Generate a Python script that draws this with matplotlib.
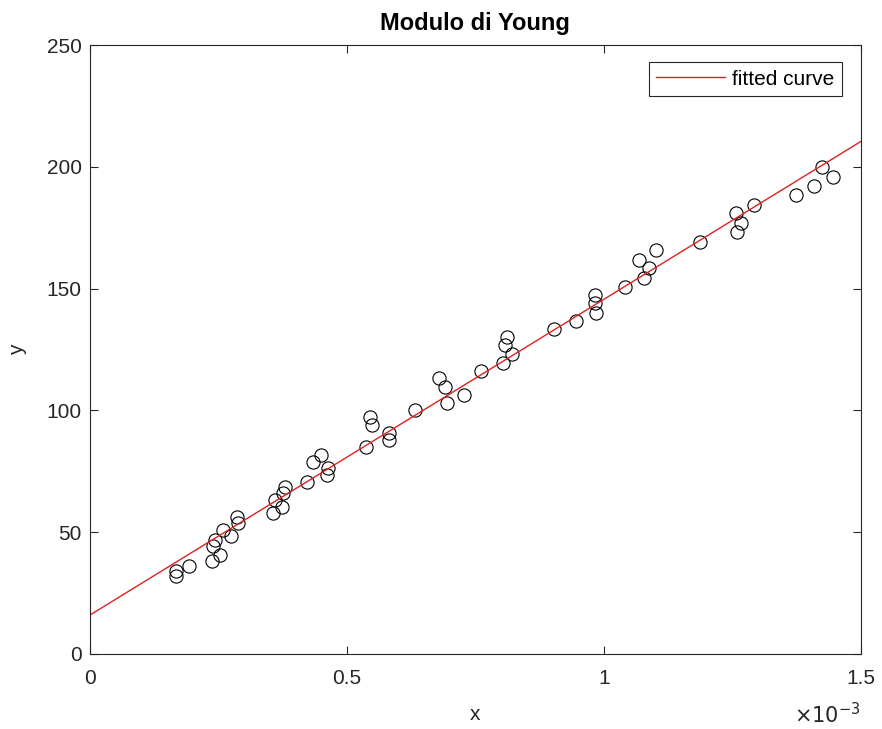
import numpy as np
import matplotlib.pyplot as plt
from matplotlib.ticker import FuncFormatter

plt.rcParams['font.family'] = ['Liberation Sans', 'DejaVu Sans']

# strain (x10^-3) and stress readings
x_milli = [0.167, 0.167, 0.193, 0.238, 0.253, 0.240, 0.244, 0.259, 0.275, 0.286,
           0.288, 0.356, 0.360, 0.374, 0.376, 0.380, 0.423, 0.434, 0.450, 0.464,
           0.462, 0.537, 0.545, 0.549, 0.581, 0.581, 0.633, 0.680, 0.690, 0.694,
           0.727, 0.761, 0.803, 0.808, 0.812, 0.822, 0.902, 0.945, 0.982, 0.982,
           0.984, 1.042, 1.068, 1.079, 1.087, 1.101, 1.188, 1.257, 1.259, 1.266,
           1.292, 1.373, 1.409, 1.424, 1.446]
y_vals = [32.0, 34.1, 36.1, 38.2, 40.6, 44.3, 46.8, 50.9, 48.4, 56.2,
          53.8, 57.9, 63.2, 60.3, 66.1, 68.6, 70.6, 78.8, 81.7, 76.4,
          73.5, 85.0, 97.3, 94.0, 90.7, 87.8, 100.2, 113.3, 109.6, 103.0,
          106.3, 116.2, 119.5, 126.8, 130.1, 123.2, 133.6, 136.7, 147.4, 144.1,
          140.0, 150.7, 161.7, 154.4, 158.5, 165.8, 169.1, 181.0, 173.2, 176.9,
          184.3, 188.4, 192.1, 199.9, 195.8]

x = np.array(x_milli) * 1e-3
y = np.array(y_vals)

# linear fit
p = np.polyfit(x, y, 1)
xf = np.linspace(0, 1.5e-3, 200)
yf = np.polyval(p, xf)

fig = plt.figure(figsize=(8.82, 7.29), dpi=100)
ax = fig.add_axes([0.102, 0.103, 0.874, 0.835])

ax.plot(x, y, 'o', mfc='none', mec='black', ms=9.5, mew=0.8)
ax.plot(xf, yf, color='#e02020', lw=1.0, label='fitted curve')

ax.set_xlim(0, 1.5e-3)
ax.set_ylim(0, 250)
ax.set_xticks([0, 0.5e-3, 1e-3, 1.5e-3])
ax.set_yticks([0, 50, 100, 150, 200, 250])
ax.xaxis.set_major_formatter(FuncFormatter(lambda v, pos: '%g' % round(v * 1e3, 3)))

ax.tick_params(direction='in', top=True, right=True, length=6, width=0.8,
               labelsize=15, colors='#262626')
ax.tick_params(axis='x', pad=11)
ax.tick_params(axis='y', pad=6)
for s in ax.spines.values():
    s.set_linewidth(0.8)
    s.set_color('#262626')

ax.set_xlabel('x', fontsize=15, color='#262626', labelpad=12)
ax.set_ylabel('y', fontsize=15, color='#262626', labelpad=14)
ax.set_title('Modulo di Young', fontsize=17, fontweight='bold', pad=11)
ax.text(1.0, -0.10, r'$\times10^{-3}$', transform=ax.transAxes, ha='right',
        va='center', fontsize=15, color='#262626')

leg = ax.legend(loc='upper right', bbox_to_anchor=(0.975, 0.972), borderaxespad=0,
                fontsize=15, fancybox=False, framealpha=1, handlelength=3.3,
                handletextpad=0.35, borderpad=0.35)
leg.get_frame().set_edgecolor('#262626')
leg.get_frame().set_linewidth(0.8)

fig.savefig('out.png', dpi=100)
